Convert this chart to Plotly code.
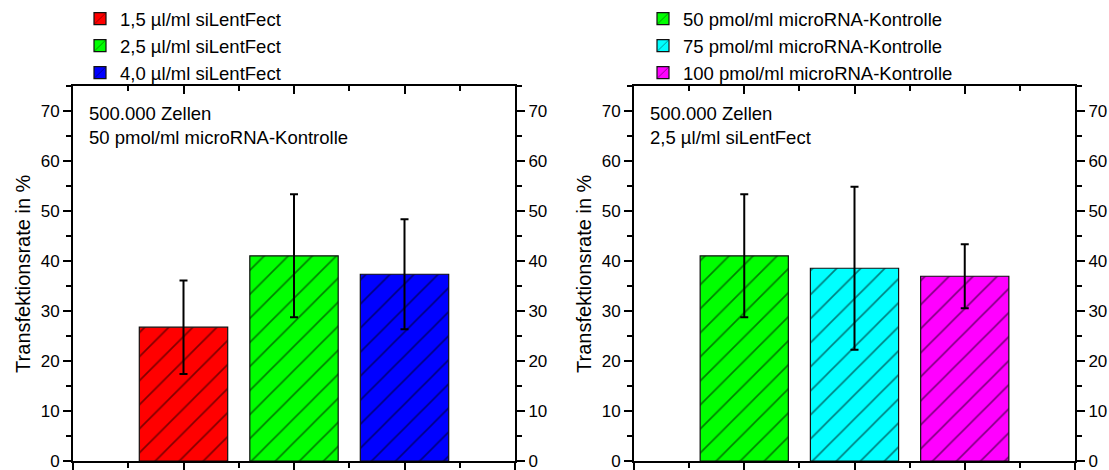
import plotly.graph_objects as go

# ---- data ----
left_labels = ["1,5 µl/ml siLentFect", "2,5 µl/ml siLentFect", "4,0 µl/ml siLentFect"]
left_values = [26.8, 41.1, 37.4]
left_errors = [9.35, 12.3, 11.0]
left_colors = ["#FF0000", "#00FF00", "#0000FF"]

right_labels = ["50 pmol/ml microRNA-Kontrolle", "75 pmol/ml microRNA-Kontrolle", "100 pmol/ml microRNA-Kontrolle"]
right_values = [41.1, 38.6, 37.0]
right_errors = [12.3, 16.3, 6.4]
right_colors = ["#00FF00", "#00FFFF", "#FF00FF"]

left_note = "500.000 Zellen<br>50 pmol/ml microRNA-Kontrolle"
right_note = "500.000 Zellen<br>2,5 µl/ml siLentFect"
y_title = "Transfektionsrate in %"

W, H = 1109, 470
FONT = "Liberation Sans, Arial, sans-serif"

fig = go.Figure()


def add_bars(labels, values, errors, colors, xa, ya, legend):
    for i, (lab, v, e, c) in enumerate(zip(labels, values, errors, colors)):
        fig.add_trace(go.Bar(
            x=[i + 1], y=[v], name=lab, width=0.8,
            xaxis=xa, yaxis=ya, legend=legend,
            marker=dict(color=c, line=dict(color="#111111", width=1.2),
                        pattern=dict(shape="/", size=17, solidity=0.1,
                                     fgcolor="black", bgcolor=c, fillmode="overlay")),
            error_y=dict(type="data", array=[e], visible=True, color="black",
                         thickness=2, width=4),
        ))


add_bars(left_labels, left_values, left_errors, left_colors, "x", "y", "legend")
add_bars(right_labels, right_values, right_errors, right_colors, "x3", "y3", "legend2")

# empty helper traces so the overlaying (mirror) axes render their ticks/labels
for xa, ya in [("x2", "y"), ("x", "y2"), ("x4", "y3"), ("x3", "y4")]:
    fig.add_trace(go.Scatter(x=[], y=[], xaxis=xa, yaxis=ya, showlegend=False,
                             hoverinfo="skip"))

ydom = [1 - 461 / H, 1 - 84 / H]
dom_l = [73 / W, 515 / W]
dom_r = [634 / W, 1075 / W]

tickfont = dict(family=FONT, size=17, color="black")


def xax(domain, anchor, overlaying=None, top=False):
    d = dict(domain=domain, anchor=anchor, range=[0, 4], tickmode="linear", tick0=0, dtick=1,
             showline=True, linecolor="black", linewidth=2, showgrid=False, zeroline=False,
             showticklabels=False, ticks="inside" if top else "outside",
             ticklen=8, tickwidth=2, tickcolor="black",
             minor=dict(ticks="inside" if top else "outside", dtick=0.5, ticklen=5,
                        tickwidth=2, tickcolor="black", showgrid=False),
             automargin=False, fixedrange=True)
    if top:
        d.update(side="top", overlaying=overlaying)
    return d


def yax(anchor, overlaying=None, right=False, title=None):
    d = dict(domain=ydom, anchor=anchor, range=[0, 75], tickmode="linear", tick0=0, dtick=10,
             showline=True, linecolor="black", linewidth=2, showgrid=False, zeroline=False,
             ticks="outside", ticklen=8, tickwidth=2, tickcolor="black",
             minor=dict(ticks="outside", dtick=5, ticklen=5, tickwidth=2, tickcolor="black",
                        showgrid=False),
             showticklabels=True, ticklabeloverflow="allow", tickfont=tickfont,
             automargin=False, fixedrange=True)
    if right:
        d.update(side="right", overlaying=overlaying)
    if title:
        d.update(title=dict(text=title, font=dict(family=FONT, size=20, color="black"),
                            standoff=5))
    return d


fig.update_layout(
    width=W, height=H,
    margin=dict(l=0, r=0, t=0, b=0),
    paper_bgcolor="white", plot_bgcolor="white",
    font=dict(family=FONT, color="black"),
    barmode="overlay",
    xaxis=xax(dom_l, "y"),
    xaxis2=xax(dom_l, "y", overlaying="x", top=True),
    yaxis=yax("x", title=y_title),
    yaxis2=yax("x", overlaying="y", right=True),
    xaxis3=xax(dom_r, "y3"),
    xaxis4=xax(dom_r, "y3", overlaying="x3", top=True),
    yaxis3=yax("x3", title=y_title),
    yaxis4=yax("x3", overlaying="y3", right=True),
    legend=dict(x=80 / W, y=1 + 3 / H, xanchor="left", yanchor="top",
                font=dict(family=FONT, size=18.5, color="black"),
                bgcolor="rgba(0,0,0,0)", tracegroupgap=0),
    legend2=dict(x=643 / W, y=1 + 3 / H, xanchor="left", yanchor="top",
                 font=dict(family=FONT, size=18.5, color="black"),
                 bgcolor="rgba(0,0,0,0)", tracegroupgap=0),
    showlegend=True,
    annotations=[
        dict(text=left_note, x=87 / W, y=1 - 99 / H, xref="paper", yref="paper",
             xanchor="left", yanchor="top", align="left", showarrow=False,
             font=dict(family=FONT, size=18.5, color="black")),
        dict(text=right_note, x=648 / W, y=1 - 99 / H, xref="paper", yref="paper",
             xanchor="left", yanchor="top", align="left", showarrow=False,
             font=dict(family=FONT, size=18.5, color="black")),
    ],
)

fig.write_html("out.html", config={"displayModeBar": False},
               post_script="document.body.style.margin='0px';")
